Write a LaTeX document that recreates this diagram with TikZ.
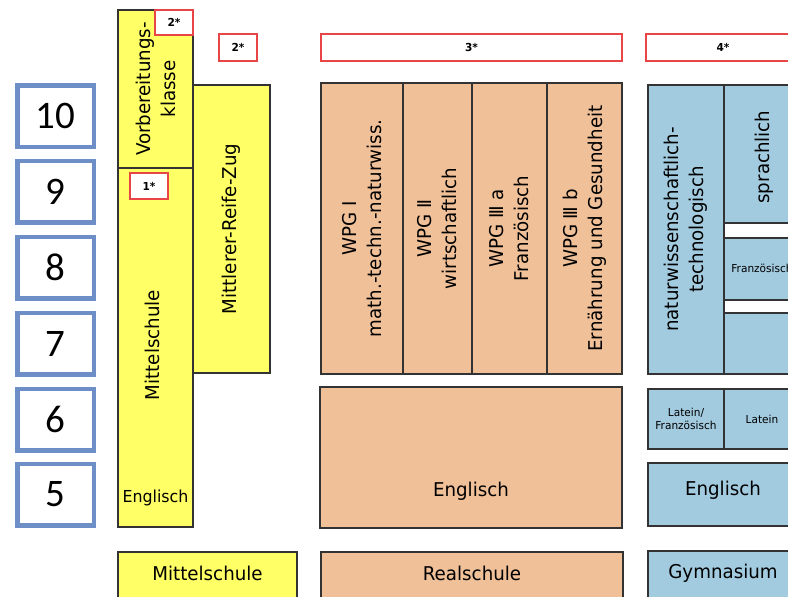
\documentclass[tikz,border=0pt]{standalone}
\usepackage{fontspec}
\setmainfont{DejaVu Sans}[FakeStretch=0.96]
\newfontfamily\numfont{Carlito}
\definecolor{msyellow}{RGB}{255,255,102}
\definecolor{rspeach}{RGB}{240,192,152}
\definecolor{gyblue}{RGB}{163,203,224}
\definecolor{gradeblue}{RGB}{110,142,200}
\definecolor{starred}{RGB}{232,70,70}
\newcommand\cellbox[7]{%
  \node[#2, minimum width={(#5)-(#3)}, minimum height={(#6)-(#4)}] (#1) at ({((#3)+(#5))/2},{((#4)+(#6))/2}) {#7};}
\begin{document}
\begin{tikzpicture}[x=1pt,y=-1pt,
  cell/.style={draw=black!80, line width=1.3pt, inner sep=0pt, outer sep=0pt},
  yel/.style={cell, fill=msyellow},
  org/.style={cell, fill=rspeach},
  blu/.style={cell, fill=gyblue},
  wht/.style={cell, fill=white},
  grade/.style={draw=gradeblue, line width=4.5pt, fill=white, inner sep=0pt, outer sep=0pt,
    minimum width=76.5pt, minimum height=61.5pt, font=\numfont\fontsize{39}{39}\selectfont},
  star/.style={draw=starred, line width=1.4pt, fill=white, inner sep=0pt, outer sep=0pt,
    font=\bfseries\fontsize{11}{11}\selectfont},
  lbl/.style={font=\fontsize{19}{25}\selectfont, align=center, inner sep=0pt},
  mid/.style={font=\fontsize{16.5}{20}\selectfont, align=center, inner sep=0pt},
  small/.style={font=\fontsize{11}{13}\selectfont, align=center, inner sep=0pt},
]
\useasboundingbox (0,0) rectangle (788,597);
\clip (0,0) rectangle (788,597);

% grade boxes
\node[grade] (g10) at (55.5,116) {10};
\node[grade] (g9) at (55.5,191.5) {9};
\node[grade] (g8) at (55.5,267.5) {8};
\node[grade] (g7) at (55.5,343.5) {7};
\node[grade] (g6) at (55.5,419.5) {6};
\node[grade] (g5) at (55.5,494.5) {5};

% Mittelschule
\cellbox{vk}{yel}{118}{10}{193}{168}{}
\cellbox{ms}{yel}{118}{168}{193}{527}{}
\cellbox{mrz}{yel}{193}{85}{270}{373}{}
\cellbox{msb}{yel}{118}{552}{297}{620}{}
\node[lbl, rotate=90] (tvk) at (156,89) {Vorbereitungs-\\klasse};
\node[lbl, rotate=90] (tms) at (152,345) {Mittelschule};
\node[lbl, rotate=90] (tmrz) at (231.5,229) {Mittlerer-Reife-Zug};
\node[mid] (tmsen) at (155.5,498) {Englisch};
\node[lbl] (tmsb) at (207.5,573) {Mittelschule};

% Realschule
\cellbox{wpga}{org}{321}{83}{403}{374}{}
\cellbox{wpgb}{org}{403}{83}{472}{374}{}
\cellbox{wpgc}{org}{472}{83}{547}{374}{}
\cellbox{wpgd}{org}{547}{83}{622}{374}{}
\cellbox{ren}{org}{320}{387}{622}{528}{}
\cellbox{rs}{org}{321}{552}{623}{620}{}
\node[lbl, rotate=90] (twa) at (wpga.center) {WPG Ⅰ\\math.-techn.-naturwiss.};
\node[lbl, rotate=90] (twb) at (wpgb.center) {WPG Ⅱ\\wirtschaftlich};
\node[lbl, rotate=90] (twc) at (wpgc.center) {WPG Ⅲ a\\Französisch};
\node[lbl, rotate=90] (twd) at (wpgd.center) {WPG Ⅲ b\\Ernährung und Gesundheit};
\node[lbl] (tren) at (471,491) {Englisch};
\node[lbl] (trs) at (472,573) {Realschule};

% Gymnasium
\cellbox{gnat}{blu}{648}{85}{724}{374}{}
\cellbox{gspr}{blu}{724}{85}{800}{223}{}
\cellbox{gwa}{wht}{724}{223}{800}{238}{}
\cellbox{gfr}{blu}{724}{238}{800}{300}{}
\cellbox{gwb}{wht}{724}{300}{800}{313}{}
\cellbox{glast}{blu}{724}{313}{800}{374}{}
\cellbox{glf}{blu}{648}{389}{724}{449}{}
\cellbox{gla}{blu}{724}{389}{800}{449}{}
\cellbox{gen}{blu}{648}{463}{800}{526}{}
\cellbox{gym}{blu}{648}{551}{800}{620}{}
\node[lbl, rotate=90] (tgnat) at (gnat.center) {naturwissenschaftlich-\\technologisch};
\node[lbl, rotate=90] (tgspr) at (764,157) {sprachlich};
\node[small] (tgfr) at (762,268) {Französisch};
\node[small] (tglf) at (glf.center) {Latein/\\Französisch};
\node[small] (tgla) at (gla.center) {Latein};
\node[lbl] (tgen) at (723,490) {Englisch};
\node[lbl] (tgym) at (723,573) {Gymnasium};

% footnote markers
\cellbox{sa}{star}{155}{10}{193}{35}{2*}
\cellbox{sb}{star}{219}{34}{257}{61}{2*}
\cellbox{sc}{star}{130}{173}{168}{199}{1*}
\cellbox{sd}{star}{321}{34}{622}{61}{3*}
\cellbox{se}{star}{646}{34}{800}{61}{4*}
\end{tikzpicture}
\end{document}
